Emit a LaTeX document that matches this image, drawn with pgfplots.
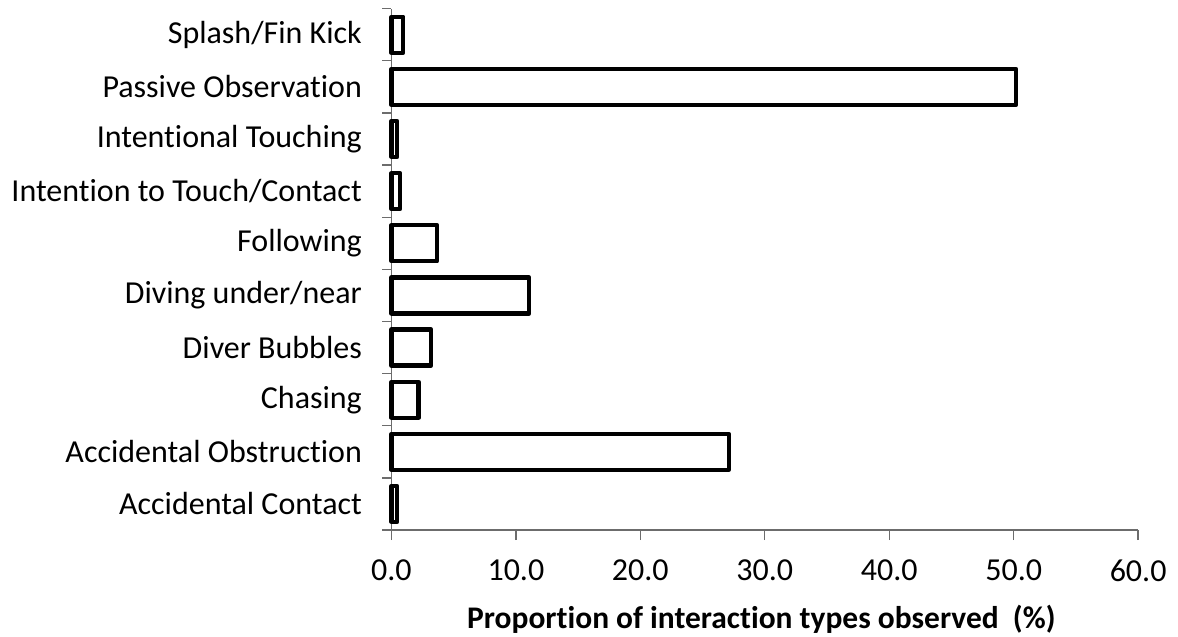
\documentclass[border=0pt]{standalone}
\usepackage{fontspec}
\setmainfont{Carlito}[Ligatures={NoCommon}]
\usepackage{pgfplots}
\pgfplotsset{compat=1.18}

% 1 px of the reference = 0.75pt
\begin{document}
\begin{tikzpicture}
\useasboundingbox (-293.6pt,-79.5pt) rectangle (589.9pt,397.5pt);
\begin{axis}[
    xbar,
    at={(0,0)}, anchor=south west,
    scale only axis,
    width=560pt,
    height=391pt,
    xmin=0, xmax=60,
    ymin=-0.5, ymax=9.5,
    axis lines*=left,
    axis line style={draw=gray!85!black, line width=1pt},
    xtick={0,10,20,30,40,50,60},
    ytick={0,1,2,3,4,5,6,7,8,9},
    yticklabels={
        Accidental Contact,
        Accidental Obstruction,
        Chasing,
        Diver Bubbles,
        Diving under/near,
        Following,
        Intention to Touch/Contact,
        Intentional Touching,
        Passive Observation,
        Splash/Fin Kick
    },
    minor ytick={-0.5,0.5,...,9.5},
    tick align=outside,
    major tick length=7.5pt,
    minor tick length=6.75pt,
    every major y tick/.style={draw=none},
    every minor y tick/.style={draw=gray!85!black, line width=1pt},
    every major x tick/.style={draw=gray!85!black, line width=1pt},
    tick label style={font=\fontsize{24}{29}\selectfont},
    xticklabel style={anchor=north, inner sep=0pt, yshift=-14.75pt},
    yticklabel style={anchor=east, inner sep=0pt, xshift=-14.5pt},
    /pgf/number format/.cd, fixed, fixed zerofill, precision=1, assume math mode=true,
    /pgfplots/.cd,
    xlabel={Proportion of interaction types observed \ (\%)},
    every axis x label/.style={at={(axis description cs:0.5,0)}, anchor=base,
        yshift=-73.5pt, xshift=-2.6pt,
        font=\fontsize{23.6}{28}\selectfont\bfseries},
    bar width=0.69,
    bar shift=0pt,
    clip=false,
]
\addplot[fill=white, draw=black, line width=3.2pt, line join=round] coordinates {
    (0.46,0) (27.1,1) (2.18,2) (3.19,3) (11.06,4)
    (3.67,5) (0.7,6) (0.46,7) (50.2,8) (0.94,9)
};
\end{axis}
\end{tikzpicture}
\end{document}
